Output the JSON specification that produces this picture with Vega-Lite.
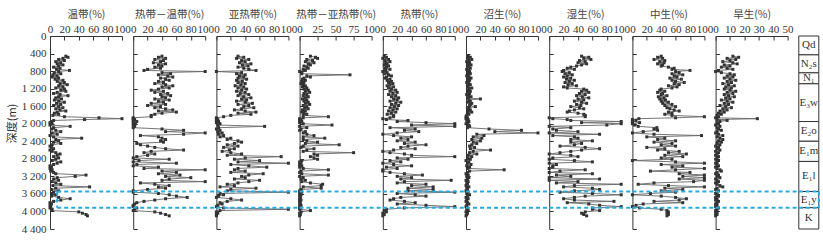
{
"$schema":"https://vega.github.io/schema/vega-lite/v6.json",
"background":"white",
"padding":{"left":6,"top":9,"right":0,"bottom":0},
"config":{
 "view":{"stroke":null},
 "axis":{"grid":false,"domainColor":"#333","domainWidth":1,"tickColor":"#333","tickWidth":1,"tickSize":-4,"tickCount":30,"labelFont":"Liberation Serif","labelFontSize":11,"labelColor":"#333","labelPadding":6,"titleFont":"Noto Sans CJK SC","titleFontSize":10.5,"titleFontWeight":"normal","titleColor":"#444","labelOverlap":false,"labelFlush":false},
 "axisX":{"titlePadding":4}
},
"datasets":{
 "guide":[{"d":3545},{"d":3915}],
 "strata":[{"unit":"Qd","top":0,"bottom":430},{"unit":"N₂s","top":430,"bottom":840},{"unit":"N₁","top":840,"bottom":1090},{"unit":"E₃w","top":1090,"bottom":1950},{"unit":"E₂o","top":1950,"bottom":2400},{"unit":"E₁m","top":2400,"bottom":2860},{"unit":"E₁l","top":2860,"bottom":3545},{"unit":"E₁y","top":3545,"bottom":3915},{"unit":"K","top":3915,"bottom":4400}],
 "pollen":[
{"d":460,"wd":22,"rw":40,"yr":30,"ry":15,"rd":2,"zs":3,"ss":45,"zh":40,"hs":12},
{"d":485,"wd":25,"rw":35,"yr":38,"ry":22,"rd":5,"zs":6,"ss":55,"zh":35,"hs":16},
{"d":510,"wd":18,"rw":45,"yr":28,"ry":25,"rd":0,"zs":2,"ss":48,"zh":42,"hs":8},
{"d":535,"wd":12,"rw":30,"yr":45,"ry":10,"rd":8,"zs":8,"ss":58,"zh":30,"hs":14},
{"d":560,"wd":20,"rw":42,"yr":35,"ry":18,"rd":3,"zs":4,"ss":42,"zh":45,"hs":10},
{"d":585,"wd":8,"rw":38,"yr":40,"ry":8,"rd":10,"zs":1,"ss":50,"zh":38,"hs":5},
{"d":610,"wd":15,"rw":28,"yr":32,"ry":20,"rd":4,"zs":5,"ss":40,"zh":44,"hs":12},
{"d":635,"wd":10,"rw":45,"yr":48,"ry":12,"rd":6,"zs":3,"ss":52,"zh":35,"hs":15},
{"d":660,"wd":18,"rw":35,"yr":36,"ry":15,"rd":2,"zs":7,"ss":45,"zh":42,"hs":6},
{"d":685,"wd":12,"rw":40,"yr":44,"ry":6,"rd":8,"zs":2,"ss":38,"zh":40,"hs":10},
{"d":710,"wd":5,"rw":30,"yr":30,"ry":10,"rd":5,"zs":4,"ss":30,"zh":50,"hs":4},
{"d":735,"wd":14,"rw":38,"yr":38,"ry":12,"rd":3,"zs":6,"ss":25,"zh":58,"hs":8},
{"d":760,"wd":9,"rw":20,"yr":45,"ry":5,"rd":10,"zs":1,"ss":35,"zh":55,"hs":12},
{"d":785,"wd":27,"rw":15,"yr":55,"ry":8,"rd":4,"zs":3,"ss":20,"zh":80,"hs":2},
{"d":810,"wd":12,"rw":100,"yr":0,"ry":0,"rd":0,"zs":5,"ss":18,"zh":60,"hs":0},
{"d":835,"wd":6,"rw":40,"yr":35,"ry":3,"rd":6,"zs":2,"ss":28,"zh":65,"hs":4},
{"d":860,"wd":15,"rw":52,"yr":28,"ry":3,"rd":2,"zs":6,"ss":22,"zh":55,"hs":10},
{"d":885,"wd":4,"rw":35,"yr":40,"ry":70,"rd":8,"zs":3,"ss":32,"zh":70,"hs":13},
{"d":910,"wd":10,"rw":48,"yr":32,"ry":10,"rd":12,"zs":1,"ss":25,"zh":58,"hs":8},
{"d":935,"wd":3,"rw":55,"yr":38,"ry":15,"rd":5,"zs":4,"ss":20,"zh":62,"hs":12},
{"d":960,"wd":12,"rw":38,"yr":30,"ry":6,"rd":3,"zs":7,"ss":30,"zh":52,"hs":6},
{"d":985,"wd":7,"rw":45,"yr":42,"ry":4,"rd":10,"zs":2,"ss":24,"zh":68,"hs":10},
{"d":1010,"wd":18,"rw":50,"yr":28,"ry":8,"rd":6,"zs":5,"ss":35,"zh":55,"hs":14},
{"d":1035,"wd":10,"rw":35,"yr":36,"ry":3,"rd":12,"zs":3,"ss":28,"zh":60,"hs":8},
{"d":1060,"wd":20,"rw":42,"yr":30,"ry":6,"rd":8,"zs":1,"ss":22,"zh":72,"hs":11},
{"d":1085,"wd":14,"rw":30,"yr":40,"ry":2,"rd":14,"zs":4,"ss":32,"zh":58,"hs":5},
{"d":1110,"wd":24,"rw":45,"yr":34,"ry":5,"rd":10,"zs":6,"ss":26,"zh":65,"hs":9},
{"d":1135,"wd":12,"rw":55,"yr":26,"ry":8,"rd":6,"zs":2,"ss":38,"zh":50,"hs":13},
{"d":1160,"wd":18,"rw":40,"yr":38,"ry":4,"rd":15,"zs":3,"ss":20,"zh":62,"hs":7},
{"d":1185,"wd":8,"rw":50,"yr":30,"ry":10,"rd":8,"zs":8,"ss":25,"zh":55,"hs":11},
{"d":1210,"wd":20,"rw":35,"yr":42,"ry":6,"rd":12,"zs":4,"ss":48,"zh":40,"hs":6},
{"d":1235,"wd":15,"rw":25,"yr":35,"ry":12,"rd":18,"zs":2,"ss":52,"zh":38,"hs":10},
{"d":1260,"wd":22,"rw":42,"yr":28,"ry":8,"rd":10,"zs":6,"ss":45,"zh":45,"hs":14},
{"d":1285,"wd":10,"rw":30,"yr":40,"ry":14,"rd":20,"zs":3,"ss":55,"zh":35,"hs":8},
{"d":1310,"wd":5,"rw":48,"yr":33,"ry":6,"rd":14,"zs":5,"ss":42,"zh":42,"hs":12},
{"d":1335,"wd":14,"rw":38,"yr":45,"ry":10,"rd":8,"zs":1,"ss":50,"zh":40,"hs":6},
{"d":1360,"wd":25,"rw":52,"yr":30,"ry":5,"rd":18,"zs":4,"ss":38,"zh":48,"hs":9},
{"d":1385,"wd":12,"rw":40,"yr":38,"ry":12,"rd":12,"zs":7,"ss":46,"zh":36,"hs":13},
{"d":1410,"wd":8,"rw":45,"yr":48,"ry":8,"rd":22,"zs":3,"ss":55,"zh":44,"hs":7},
{"d":1435,"wd":16,"rw":30,"yr":35,"ry":4,"rd":15,"zs":20,"ss":40,"zh":38,"hs":10},
{"d":1460,"wd":6,"rw":50,"yr":42,"ry":10,"rd":20,"zs":4,"ss":48,"zh":46,"hs":4},
{"d":1485,"wd":12,"rw":35,"yr":28,"ry":6,"rd":10,"zs":6,"ss":35,"zh":40,"hs":8},
{"d":1510,"wd":20,"rw":42,"yr":40,"ry":12,"rd":25,"zs":3,"ss":45,"zh":50,"hs":12},
{"d":1535,"wd":9,"rw":25,"yr":50,"ry":8,"rd":18,"zs":8,"ss":52,"zh":42,"hs":6},
{"d":1560,"wd":15,"rw":45,"yr":30,"ry":14,"rd":12,"zs":6,"ss":38,"zh":55,"hs":9},
{"d":1585,"wd":5,"rw":20,"yr":45,"ry":5,"rd":22,"zs":5,"ss":44,"zh":45,"hs":3},
{"d":1610,"wd":12,"rw":38,"yr":38,"ry":10,"rd":16,"zs":13,"ss":30,"zh":60,"hs":7},
{"d":1635,"wd":18,"rw":30,"yr":52,"ry":7,"rd":10,"zs":4,"ss":42,"zh":48,"hs":11},
{"d":1660,"wd":8,"rw":45,"yr":35,"ry":12,"rd":20,"zs":2,"ss":48,"zh":52,"hs":5},
{"d":1685,"wd":14,"rw":55,"yr":25,"ry":4,"rd":14,"zs":6,"ss":35,"zh":58,"hs":8},
{"d":1710,"wd":22,"rw":35,"yr":40,"ry":8,"rd":8,"zs":3,"ss":28,"zh":65,"hs":3},
{"d":1735,"wd":10,"rw":60,"yr":55,"ry":3,"rd":18,"zs":8,"ss":25,"zh":50,"hs":6},
{"d":1760,"wd":6,"rw":40,"yr":30,"ry":6,"rd":12,"zs":2,"ss":40,"zh":55,"hs":2},
{"d":1785,"wd":12,"rw":30,"yr":48,"ry":10,"rd":6,"zs":4,"ss":48,"zh":45,"hs":4},
{"d":1810,"wd":4,"rw":25,"yr":20,"ry":5,"rd":15,"zs":1,"ss":50,"zh":55,"hs":1},
{"d":1840,"wd":20,"rw":25,"yr":10,"ry":40,"rd":15,"zs":0,"ss":50,"zh":100,"hs":2},
{"d":1865,"wd":68,"rw":0,"yr":0,"ry":5,"rd":10,"zs":2,"ss":0,"zh":60,"hs":0},
{"d":1885,"wd":100,"rw":0,"yr":0,"ry":0,"rd":0,"zs":0,"ss":5,"zh":9,"hs":29},
{"d":1905,"wd":48,"rw":2,"yr":2,"ry":2,"rd":5,"zs":3,"ss":25,"zh":0,"hs":1},
{"d":1925,"wd":5,"rw":0,"yr":0,"ry":0,"rd":35,"zs":1,"ss":30,"zh":5,"hs":8},
{"d":1950,"wd":2,"rw":5,"yr":3,"ry":3,"rd":20,"zs":4,"ss":100,"zh":0,"hs":3},
{"d":1975,"wd":0,"rw":0,"yr":0,"ry":0,"rd":60,"zs":2,"ss":45,"zh":10,"hs":1},
{"d":2000,"wd":3,"rw":3,"yr":5,"ry":5,"rd":100,"zs":0,"ss":100,"zh":0,"hs":2},
{"d":2030,"wd":0,"rw":0,"yr":2,"ry":45,"rd":40,"zs":3,"ss":80,"zh":3,"hs":0},
{"d":2060,"wd":28,"rw":2,"yr":67,"ry":0,"rd":100,"zs":5,"ss":0,"zh":8,"hs":3},
{"d":2090,"wd":5,"rw":0,"yr":3,"ry":10,"rd":10,"zs":2,"ss":30,"zh":34,"hs":1},
{"d":2120,"wd":2,"rw":40,"yr":0,"ry":2,"rd":45,"zs":32,"ss":5,"zh":30,"hs":2},
{"d":2150,"wd":8,"rw":70,"yr":5,"ry":0,"rd":30,"zs":77,"ss":10,"zh":35,"hs":4},
{"d":2180,"wd":15,"rw":45,"yr":2,"ry":8,"rd":50,"zs":40,"ss":40,"zh":15,"hs":1},
{"d":2210,"wd":3,"rw":100,"yr":8,"ry":5,"rd":20,"zs":100,"ss":0,"zh":0,"hs":0},
{"d":2240,"wd":10,"rw":70,"yr":3,"ry":10,"rd":0,"zs":15,"ss":70,"zh":30,"hs":2},
{"d":2270,"wd":0,"rw":10,"yr":10,"ry":20,"rd":15,"zs":25,"ss":5,"zh":96,"hs":5},
{"d":2300,"wd":5,"rw":35,"yr":5,"ry":5,"rd":40,"zs":10,"ss":35,"zh":20,"hs":1},
{"d":2330,"wd":44,"rw":40,"yr":20,"ry":35,"rd":25,"zs":22,"ss":40,"zh":45,"hs":3},
{"d":2360,"wd":8,"rw":45,"yr":15,"ry":5,"rd":35,"zs":8,"ss":30,"zh":35,"hs":5},
{"d":2390,"wd":12,"rw":38,"yr":30,"ry":10,"rd":20,"zs":20,"ss":60,"zh":60,"hs":2},
{"d":2420,"wd":5,"rw":42,"yr":35,"ry":25,"rd":45,"zs":10,"ss":30,"zh":30,"hs":4},
{"d":2450,"wd":15,"rw":5,"yr":25,"ry":8,"rd":30,"zs":15,"ss":45,"zh":55,"hs":1},
{"d":2480,"wd":3,"rw":10,"yr":15,"ry":55,"rd":60,"zs":8,"ss":35,"zh":40,"hs":3},
{"d":2510,"wd":0,"rw":20,"yr":30,"ry":5,"rd":35,"zs":5,"ss":15,"zh":60,"hs":0},
{"d":2540,"wd":2,"rw":30,"yr":10,"ry":2,"rd":25,"zs":12,"ss":50,"zh":20,"hs":2},
{"d":2570,"wd":5,"rw":45,"yr":25,"ry":20,"rd":45,"zs":6,"ss":70,"zh":45,"hs":1},
{"d":2600,"wd":0,"rw":70,"yr":18,"ry":10,"rd":15,"zs":34,"ss":45,"zh":35,"hs":3},
{"d":2630,"wd":3,"rw":25,"yr":8,"ry":5,"rd":0,"zs":10,"ss":30,"zh":65,"hs":0},
{"d":2660,"wd":8,"rw":15,"yr":20,"ry":75,"rd":10,"zs":5,"ss":15,"zh":50,"hs":2},
{"d":2690,"wd":14,"rw":30,"yr":35,"ry":20,"rd":30,"zs":15,"ss":0,"zh":75,"hs":1},
{"d":2720,"wd":10,"rw":20,"yr":15,"ry":25,"rd":40,"zs":3,"ss":30,"zh":45,"hs":0},
{"d":2750,"wd":5,"rw":5,"yr":90,"ry":15,"rd":100,"zs":8,"ss":40,"zh":70,"hs":2},
{"d":2780,"wd":12,"rw":0,"yr":40,"ry":20,"rd":20,"zs":2,"ss":5,"zh":40,"hs":1},
{"d":2810,"wd":8,"rw":50,"yr":25,"ry":25,"rd":35,"zs":6,"ss":0,"zh":55,"hs":0},
{"d":2840,"wd":3,"rw":8,"yr":60,"ry":3,"rd":10,"zs":0,"ss":35,"zh":0,"hs":2},
{"d":2870,"wd":15,"rw":0,"yr":30,"ry":0,"rd":25,"zs":4,"ss":60,"zh":60,"hs":1},
{"d":2900,"wd":10,"rw":60,"yr":100,"ry":2,"rd":0,"zs":2,"ss":0,"zh":100,"hs":0},
{"d":2930,"wd":5,"rw":5,"yr":20,"ry":0,"rd":15,"zs":7,"ss":10,"zh":40,"hs":1},
{"d":2960,"wd":0,"rw":0,"yr":45,"ry":3,"rd":40,"zs":1,"ss":5,"zh":70,"hs":2},
{"d":2990,"wd":2,"rw":35,"yr":70,"ry":0,"rd":5,"zs":5,"ss":5,"zh":55,"hs":0},
{"d":3020,"wd":0,"rw":15,"yr":30,"ry":5,"rd":20,"zs":2,"ss":0,"zh":100,"hs":1},
{"d":3050,"wd":3,"rw":100,"yr":25,"ry":40,"rd":0,"zs":53,"ss":50,"zh":60,"hs":3},
{"d":3080,"wd":1,"rw":40,"yr":40,"ry":2,"rd":0,"zs":5,"ss":15,"zh":25,"hs":4},
{"d":3110,"wd":5,"rw":60,"yr":20,"ry":0,"rd":10,"zs":2,"ss":0,"zh":80,"hs":1},
{"d":3140,"wd":8,"rw":35,"yr":65,"ry":3,"rd":30,"zs":0,"ss":60,"zh":65,"hs":0},
{"d":3170,"wd":50,"rw":65,"yr":45,"ry":40,"rd":55,"zs":3,"ss":10,"zh":100,"hs":2},
{"d":3200,"wd":35,"rw":45,"yr":35,"ry":0,"rd":20,"zs":1,"ss":30,"zh":70,"hs":1},
{"d":3230,"wd":10,"rw":80,"yr":40,"ry":5,"rd":40,"zs":4,"ss":0,"zh":100,"hs":3},
{"d":3260,"wd":5,"rw":50,"yr":25,"ry":2,"rd":25,"zs":2,"ss":70,"zh":65,"hs":0},
{"d":3290,"wd":12,"rw":40,"yr":60,"ry":8,"rd":95,"zs":0,"ss":0,"zh":100,"hs":1},
{"d":3320,"wd":3,"rw":100,"yr":45,"ry":3,"rd":30,"zs":3,"ss":40,"zh":85,"hs":2},
{"d":3350,"wd":8,"rw":10,"yr":30,"ry":15,"rd":20,"zs":1,"ss":10,"zh":30,"hs":0},
{"d":3380,"wd":15,"rw":30,"yr":15,"ry":32,"rd":60,"zs":2,"ss":100,"zh":8,"hs":1},
{"d":3410,"wd":4,"rw":50,"yr":25,"ry":30,"rd":40,"zs":0,"ss":35,"zh":50,"hs":3},
{"d":3440,"wd":55,"rw":35,"yr":5,"ry":5,"rd":70,"zs":4,"ss":20,"zh":100,"hs":5},
{"d":3470,"wd":8,"rw":45,"yr":55,"ry":30,"rd":35,"zs":1,"ss":60,"zh":45,"hs":1},
{"d":3500,"wd":2,"rw":20,"yr":20,"ry":2,"rd":70,"zs":2,"ss":70,"zh":70,"hs":0},
{"d":3530,"wd":12,"rw":0,"yr":15,"ry":0,"rd":35,"zs":0,"ss":35,"zh":40,"hs":2},
{"d":3560,"wd":5,"rw":0,"yr":100,"ry":3,"rd":100,"zs":3,"ss":15,"zh":60,"hs":1},
{"d":3590,"wd":3,"rw":35,"yr":5,"ry":0,"rd":20,"zs":1,"ss":60,"zh":25,"hs":0},
{"d":3620,"wd":8,"rw":50,"yr":10,"ry":2,"rd":45,"zs":5,"ss":100,"zh":0,"hs":1},
{"d":3650,"wd":2,"rw":60,"yr":3,"ry":0,"rd":60,"zs":2,"ss":50,"zh":40,"hs":2},
{"d":3680,"wd":12,"rw":75,"yr":0,"ry":1,"rd":25,"zs":0,"ss":35,"zh":60,"hs":0},
{"d":3710,"wd":28,"rw":45,"yr":20,"ry":0,"rd":15,"zs":3,"ss":20,"zh":75,"hs":1},
{"d":3740,"wd":15,"rw":30,"yr":35,"ry":2,"rd":10,"zs":1,"ss":35,"zh":65,"hs":0},
{"d":3770,"wd":5,"rw":15,"yr":15,"ry":0,"rd":30,"zs":0,"ss":90,"zh":30,"hs":2},
{"d":3800,"wd":0,"rw":5,"yr":5,"ry":1,"rd":45,"zs":2,"ss":25,"zh":70,"hs":1},
{"d":3830,"wd":2,"rw":2,"yr":8,"ry":0,"rd":20,"zs":4,"ss":55,"zh":15,"hs":0},
{"d":3860,"wd":0,"rw":0,"yr":2,"ry":2,"rd":60,"zs":1,"ss":70,"zh":5,"hs":1},
{"d":3890,"wd":1,"rw":0,"yr":0,"ry":0,"rd":100,"zs":0,"ss":100,"zh":0,"hs":0},
{"d":3920,"wd":0,"rw":5,"yr":10,"ry":1,"rd":30,"zs":2,"ss":60,"zh":10,"hs":2},
{"d":3950,"wd":3,"rw":2,"yr":100,"ry":0,"rd":5,"zs":1,"ss":60,"zh":40,"hs":1},
{"d":3980,"wd":2,"rw":0,"yr":5,"ry":15,"rd":2,"zs":3,"ss":70,"zh":48,"hs":0},
{"d":4010,"wd":40,"rw":30,"yr":0,"ry":2,"rd":5,"zs":0,"ss":50,"zh":50,"hs":1},
{"d":4040,"wd":45,"rw":38,"yr":2,"ry":0,"rd":0,"zs":2,"ss":45,"zh":48,"hs":0},
{"d":4070,"wd":50,"rw":45,"yr":0,"ry":1,"rd":2,"zs":1,"ss":48,"zh":50,"hs":1},
{"d":4100,"wd":52,"rw":50,"yr":0,"ry":0,"rd":0,"zs":0,"ss":52,"zh":48,"hs":0}
 ]
},
"bounds":"flush",
"spacing":11.2,
"hconcat":[
  {"width":72,"height":193,"data":{"name":"pollen"},"layer":[
   {"mark":{"type":"line","color":"#666","strokeWidth":0.9,"point":{"shape":"square","size":9,"filled":true,"color":"#333","opacity":1}},
    "encoding":{"x":{"field":"wd","type":"quantitative","scale":{"domain":[0,100],"nice":false},"axis":{"orient":"top","values":[0,20,40,60,80,100],"tickCount":30,"labelOverlap":false,"title":"温带(%)"}},
     "y":{"field":"d","type":"quantitative","scale":{"domain":[0,4400],"reverse":true,"nice":false},"axis":{"values":[0,400,800,1200,1600,2000,2400,2800,3200,3600,4000,4400],"tickCount":30,"labelOverlap":false,"labelExpr":"replace(format(datum.value, ','), ',', ' ')","labelPadding":8,"title":"深度(m)","titleY":87,"titleFontSize":11,"titleColor":"#333"}},
     "order":{"field":"d","type":"quantitative"}}},
   {"data":{"name":"guide"},"mark":{"type":"rule","color":"#29abe2","strokeWidth":2,"strokeDash":[4,3]},"encoding":{"x":{"datum":10},"x2":{"datum":116},"y":{"field":"d","type":"quantitative"}}},
   {"data":{"name":"guide"},"mark":{"type":"rule","color":"#29abe2","strokeWidth":2,"strokeDash":[4,3]},"encoding":{"x":{"datum":10},"y":{"aggregate":"min","field":"d","type":"quantitative"},"y2":{"aggregate":"max","field":"d"}}}
  ]},
  {"width":72,"height":193,"data":{"name":"pollen"},"layer":[
   {"mark":{"type":"line","color":"#666","strokeWidth":0.9,"point":{"shape":"square","size":9,"filled":true,"color":"#333","opacity":1}},
    "encoding":{"x":{"field":"rw","type":"quantitative","scale":{"domain":[0,100],"nice":false},"axis":{"orient":"top","values":[0,20,40,60,80,100],"tickCount":30,"labelOverlap":false,"title":"热带－温带(%)"}},
     "y":{"field":"d","type":"quantitative","scale":{"domain":[0,4400],"reverse":true,"nice":false},"axis":{"values":[0,400,800,1200,1600,2000,2400,2800,3200,3600,4000,4400],"tickCount":30,"labels":false,"title":null}},
     "order":{"field":"d","type":"quantitative"}}},
   {"data":{"name":"guide"},"mark":{"type":"rule","color":"#29abe2","strokeWidth":2,"strokeDash":[4,3]},"encoding":{"x":{"datum":0},"x2":{"datum":116},"y":{"field":"d","type":"quantitative"}}}
  ]},
  {"width":72,"height":193,"data":{"name":"pollen"},"layer":[
   {"mark":{"type":"line","color":"#666","strokeWidth":0.9,"point":{"shape":"square","size":9,"filled":true,"color":"#333","opacity":1}},
    "encoding":{"x":{"field":"yr","type":"quantitative","scale":{"domain":[0,100],"nice":false},"axis":{"orient":"top","values":[0,20,40,60,80,100],"tickCount":30,"labelOverlap":false,"title":"亚热带(%)"}},
     "y":{"field":"d","type":"quantitative","scale":{"domain":[0,4400],"reverse":true,"nice":false},"axis":{"values":[0,400,800,1200,1600,2000,2400,2800,3200,3600,4000,4400],"tickCount":30,"labels":false,"title":null}},
     "order":{"field":"d","type":"quantitative"}}},
   {"data":{"name":"guide"},"mark":{"type":"rule","color":"#29abe2","strokeWidth":2,"strokeDash":[4,3]},"encoding":{"x":{"datum":0},"x2":{"datum":116},"y":{"field":"d","type":"quantitative"}}}
  ]},
  {"width":72,"height":193,"data":{"name":"pollen"},"layer":[
   {"mark":{"type":"line","color":"#666","strokeWidth":0.9,"point":{"shape":"square","size":9,"filled":true,"color":"#333","opacity":1}},
    "encoding":{"x":{"field":"ry","type":"quantitative","scale":{"domain":[0,100],"nice":false},"axis":{"orient":"top","values":[0,25,50,75,100],"tickCount":30,"labelOverlap":false,"title":"热带－亚热带(%)"}},
     "y":{"field":"d","type":"quantitative","scale":{"domain":[0,4400],"reverse":true,"nice":false},"axis":{"values":[0,400,800,1200,1600,2000,2400,2800,3200,3600,4000,4400],"tickCount":30,"labels":false,"title":null}},
     "order":{"field":"d","type":"quantitative"}}},
   {"data":{"name":"guide"},"mark":{"type":"rule","color":"#29abe2","strokeWidth":2,"strokeDash":[4,3]},"encoding":{"x":{"datum":0},"x2":{"datum":116},"y":{"field":"d","type":"quantitative"}}}
  ]},
  {"width":72,"height":193,"data":{"name":"pollen"},"layer":[
   {"mark":{"type":"line","color":"#666","strokeWidth":0.9,"point":{"shape":"square","size":9,"filled":true,"color":"#333","opacity":1}},
    "encoding":{"x":{"field":"rd","type":"quantitative","scale":{"domain":[0,100],"nice":false},"axis":{"orient":"top","values":[0,20,40,60,80,100],"tickCount":30,"labelOverlap":false,"title":"热带(%)"}},
     "y":{"field":"d","type":"quantitative","scale":{"domain":[0,4400],"reverse":true,"nice":false},"axis":{"values":[0,400,800,1200,1600,2000,2400,2800,3200,3600,4000,4400],"tickCount":30,"labels":false,"title":null}},
     "order":{"field":"d","type":"quantitative"}}},
   {"data":{"name":"guide"},"mark":{"type":"rule","color":"#29abe2","strokeWidth":2,"strokeDash":[4,3]},"encoding":{"x":{"datum":0},"x2":{"datum":116},"y":{"field":"d","type":"quantitative"}}}
  ]},
  {"width":72,"height":193,"data":{"name":"pollen"},"layer":[
   {"mark":{"type":"line","color":"#666","strokeWidth":0.9,"point":{"shape":"square","size":9,"filled":true,"color":"#333","opacity":1}},
    "encoding":{"x":{"field":"zs","type":"quantitative","scale":{"domain":[0,100],"nice":false},"axis":{"orient":"top","values":[0,20,40,60,80,100],"tickCount":30,"labelOverlap":false,"title":"沼生(%)"}},
     "y":{"field":"d","type":"quantitative","scale":{"domain":[0,4400],"reverse":true,"nice":false},"axis":{"values":[0,400,800,1200,1600,2000,2400,2800,3200,3600,4000,4400],"tickCount":30,"labels":false,"title":null}},
     "order":{"field":"d","type":"quantitative"}}},
   {"data":{"name":"guide"},"mark":{"type":"rule","color":"#29abe2","strokeWidth":2,"strokeDash":[4,3]},"encoding":{"x":{"datum":0},"x2":{"datum":116},"y":{"field":"d","type":"quantitative"}}}
  ]},
  {"width":72,"height":193,"data":{"name":"pollen"},"layer":[
   {"mark":{"type":"line","color":"#666","strokeWidth":0.9,"point":{"shape":"square","size":9,"filled":true,"color":"#333","opacity":1}},
    "encoding":{"x":{"field":"ss","type":"quantitative","scale":{"domain":[0,100],"nice":false},"axis":{"orient":"top","values":[0,20,40,60,80,100],"tickCount":30,"labelOverlap":false,"title":"湿生(%)"}},
     "y":{"field":"d","type":"quantitative","scale":{"domain":[0,4400],"reverse":true,"nice":false},"axis":{"values":[0,400,800,1200,1600,2000,2400,2800,3200,3600,4000,4400],"tickCount":30,"labels":false,"title":null}},
     "order":{"field":"d","type":"quantitative"}}},
   {"data":{"name":"guide"},"mark":{"type":"rule","color":"#29abe2","strokeWidth":2,"strokeDash":[4,3]},"encoding":{"x":{"datum":0},"x2":{"datum":116},"y":{"field":"d","type":"quantitative"}}}
  ]},
  {"width":72,"height":193,"data":{"name":"pollen"},"layer":[
   {"mark":{"type":"line","color":"#666","strokeWidth":0.9,"point":{"shape":"square","size":9,"filled":true,"color":"#333","opacity":1}},
    "encoding":{"x":{"field":"zh","type":"quantitative","scale":{"domain":[0,100],"nice":false},"axis":{"orient":"top","values":[0,20,40,60,80,100],"tickCount":30,"labelOverlap":false,"title":"中生(%)"}},
     "y":{"field":"d","type":"quantitative","scale":{"domain":[0,4400],"reverse":true,"nice":false},"axis":{"values":[0,400,800,1200,1600,2000,2400,2800,3200,3600,4000,4400],"tickCount":30,"labels":false,"title":null}},
     "order":{"field":"d","type":"quantitative"}}},
   {"data":{"name":"guide"},"mark":{"type":"rule","color":"#29abe2","strokeWidth":2,"strokeDash":[4,3]},"encoding":{"x":{"datum":0},"x2":{"datum":116},"y":{"field":"d","type":"quantitative"}}}
  ]},
  {"width":72,"height":193,"data":{"name":"pollen"},"layer":[
   {"mark":{"type":"line","color":"#666","strokeWidth":0.9,"point":{"shape":"square","size":9,"filled":true,"color":"#333","opacity":1}},
    "encoding":{"x":{"field":"hs","type":"quantitative","scale":{"domain":[0,50],"nice":false},"axis":{"orient":"top","values":[0,10,20,30,40,50],"tickCount":30,"labelOverlap":false,"title":"旱生(%)"}},
     "y":{"field":"d","type":"quantitative","scale":{"domain":[0,4400],"reverse":true,"nice":false},"axis":{"values":[0,400,800,1200,1600,2000,2400,2800,3200,3600,4000,4400],"tickCount":30,"labels":false,"title":null}},
     "order":{"field":"d","type":"quantitative"}}},
   {"data":{"name":"guide"},"mark":{"type":"rule","color":"#29abe2","strokeWidth":2,"strokeDash":[4,3]},"encoding":{"x":{"datum":0},"x2":{"datum":58},"y":{"field":"d","type":"quantitative"}}}
  ]},
 {"width":20,"height":193,"layer":[
  {"data":{"name":"strata"},"mark":{"type":"rect","fill":"white","stroke":"#333","strokeWidth":1},
   "encoding":{"x":{"datum":0,"type":"quantitative","scale":{"domain":[0,1],"nice":false},"axis":null},"x2":{"datum":1},
    "y":{"field":"top","type":"quantitative","scale":{"domain":[0,4400],"reverse":true,"nice":false},"axis":null},"y2":{"field":"bottom"}}},
  {"data":{"name":"strata"},"transform":[{"calculate":"(datum.top+datum.bottom)/2","as":"mid"}],"mark":{"type":"text","font":"Liberation Serif","fontSize":11,"color":"#333"},
   "encoding":{"x":{"datum":0.5},"y":{"field":"mid","type":"quantitative"},"text":{"field":"unit"}}},
  {"data":{"name":"guide"},"mark":{"type":"rule","color":"#29abe2","strokeWidth":2,"strokeDash":[4,3]},"encoding":{"x":{"datum":0},"x2":{"datum":1},"y":{"field":"d","type":"quantitative"}}},
  {"data":{"name":"guide"},"mark":{"type":"rule","color":"#29abe2","strokeWidth":2,"strokeDash":[4,3]},"encoding":{"x":{"datum":1},"y":{"aggregate":"min","field":"d","type":"quantitative"},"y2":{"aggregate":"max","field":"d"}}}
 ]}
]
}
